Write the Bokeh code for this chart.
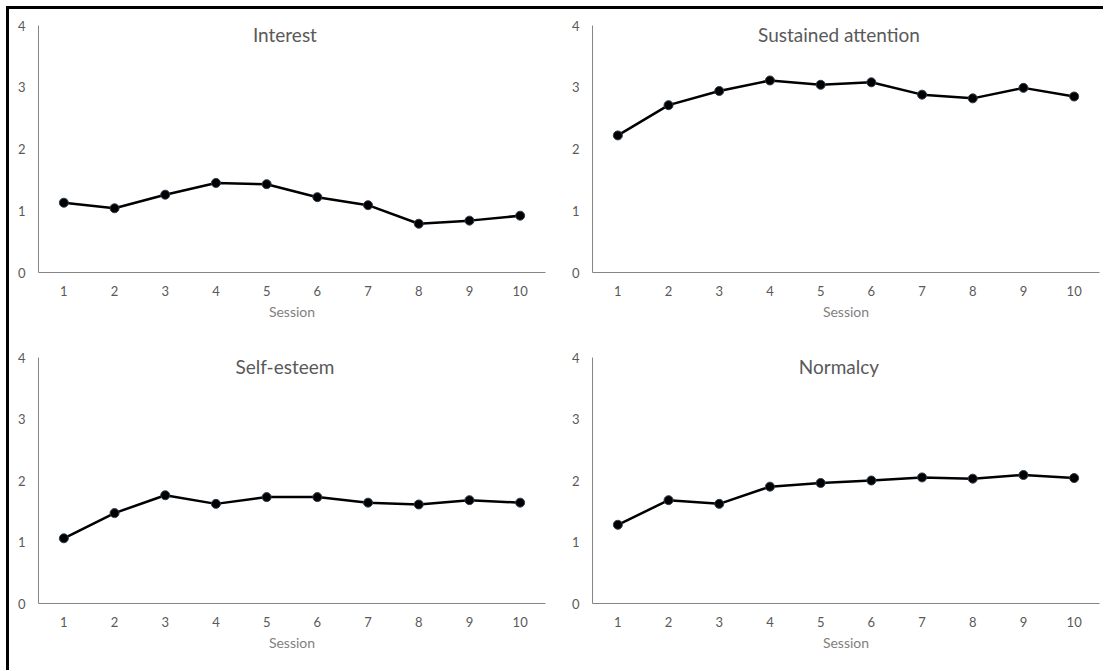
from bokeh.plotting import figure
from bokeh.layouts import gridplot, column, row
from bokeh.models import Range1d, FixedTicker, Label, Spacer
from bokeh.embed import file_html
from bokeh.resources import INLINE

sessions = [1, 2, 3, 4, 5, 6, 7, 8, 9, 10]
interest = [1.13, 1.04, 1.26, 1.45, 1.43, 1.22, 1.09, 0.79, 0.84, 0.92]
sustained_attention = [2.22, 2.71, 2.94, 3.11, 3.04, 3.08, 2.88, 2.82, 2.99, 2.85]
self_esteem = [1.06, 1.47, 1.76, 1.62, 1.73, 1.73, 1.64, 1.61, 1.68, 1.64]
normalcy = [1.28, 1.68, 1.62, 1.90, 1.96, 2.00, 2.05, 2.03, 2.09, 2.04]
titles = ["Interest", "Sustained attention", "Self-esteem", "Normalcy"]
y_ticks = [0, 1, 2, 3, 4]
x_label = "Session"

FONT = "Lato"
AXIS_COLOR = "#868686"
TEXT_COLOR = "#595959"


def make_panel(title, values, left, right, top, bottom, width, height):
    p = figure(width=width, height=height, output_backend="svg", toolbar_location=None,
               x_range=Range1d(0.5, 10.5), y_range=Range1d(0, 4),
               min_border_left=left, min_border_right=right,
               min_border_top=top, min_border_bottom=bottom)
    p.outline_line_color = None
    p.xgrid.grid_line_color = None
    p.ygrid.grid_line_color = None
    p.background_fill_color = "white"
    p.border_fill_color = "white"

    p.xaxis.ticker = FixedTicker(ticks=sessions)
    p.yaxis.ticker = FixedTicker(ticks=y_ticks)
    for ax in (p.xaxis[0], p.yaxis[0]):
        ax.axis_line_color = AXIS_COLOR
        ax.axis_line_width = 1
        ax.major_tick_line_color = None
        ax.minor_tick_line_color = None
        ax.major_tick_out = 0
        ax.major_tick_in = 0
        ax.major_label_text_font = FONT
        ax.major_label_text_font_size = "13px"
        ax.major_label_text_color = TEXT_COLOR
    p.yaxis.major_label_standoff = 13
    p.xaxis.major_label_standoff = 13
    p.xaxis.axis_label = x_label
    p.xaxis.axis_label_text_font = FONT
    p.xaxis.axis_label_text_font_size = "14px"
    p.xaxis.axis_label_text_font_style = "normal"
    p.xaxis.axis_label_text_color = "#7f7f7f"
    p.xaxis.axis_label_standoff = 4

    p.line(sessions, values, line_color="black", line_width=2.5)
    p.scatter(sessions, values, size=9, fill_color="black", line_color="#2e3d50", line_width=1)

    p.add_layout(Label(x=5.36, y=3.85, text=title, text_align="center", text_baseline="middle",
                       text_font=FONT, text_font_size="19px", text_color=TEXT_COLOR))
    return p


p1 = make_panel(titles[0], interest, 29, 3, 16, 68, 539, 331)
p2 = make_panel(titles[1], sustained_attention, 44, 4, 16, 68, 555, 331)
p3 = make_panel(titles[2], self_esteem, 29, 3, 17, 67, 539, 330)
p4 = make_panel(titles[3], normalcy, 44, 4, 17, 67, 555, 330)

grid = gridplot([[p1, p2], [p3, p4]], toolbar_location=None)

top_bar = Spacer(width=1097, height=3, styles={"background-color": "black"})
left_bar = Spacer(width=3, height=661, styles={"background-color": "black"})
framed = column(top_bar, row(left_bar, grid))
layout = column(Spacer(width=1103, height=6), row(Spacer(width=6, height=664), framed))

open("out.html", "w").write(file_html(layout, INLINE))
